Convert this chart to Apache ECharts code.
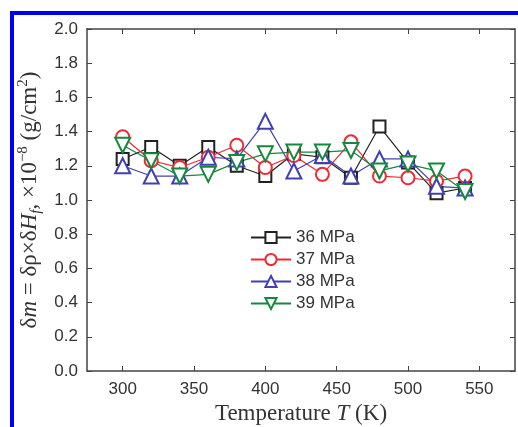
<!DOCTYPE html>
<html>
<head>
    <meta charset="utf-8" />
    <script src="https://cdn.jsdelivr.net/npm/echarts@6/dist/echarts.min.js"></script>
    <style type="text/css">
        body, html {
            margin: 0;
            padding: 0;
            background: #fff;
        }
        #frame {
            position: absolute;
            left: 10px;
            top: 11px;
            width: 508px;
            height: 416px;
            border-left: 4px solid #0000f0;
            border-top: 4px solid #0000f0;
        }
        #main {
            position: absolute;
            left: 0;
            top: 0;
            width: 518px;
            height: 427px;
        }
    </style>
</head>
<body>
    <div id="frame"></div>
    <div id="main"></div>
<script type="text/javascript">
    // temperature (K)
    var temps = [300, 320, 340, 360, 380, 400, 420, 440, 460, 480, 500, 520, 540];
    // delta m values, x10^-8 g/cm^2
    var p36 = [1.24, 1.31, 1.20, 1.31, 1.20, 1.14, 1.27, 1.25, 1.13, 1.43, 1.22, 1.04, 1.07];
    var p37 = [1.37, 1.23, 1.19, 1.25, 1.32, 1.19, 1.26, 1.15, 1.34, 1.14, 1.13, 1.11, 1.14];
    var p38 = [1.20, 1.14, 1.14, 1.25, 1.24, 1.46, 1.17, 1.26, 1.14, 1.24, 1.24, 1.08, 1.07];
    var p39 = [1.32, 1.23, 1.14, 1.15, 1.22, 1.27, 1.28, 1.28, 1.29, 1.17, 1.21, 1.17, 1.05];
    var names = ['36 MPa', '37 MPa', '38 MPa', '39 MPa'];
    var xTicks = [300, 350, 400, 450, 500, 550];

    function pairs(ys) {
        var out = [];
        for (var i = 0; i < temps.length; i++) {
            out.push([temps[i], ys[i]]);
        }
        return out;
    }

    var axisCol = '#444';
    var labelFont = { color: '#333', fontFamily: 'Liberation Sans', fontSize: 17 };

    function mkSeries(name, ys, color, symbol, rot, size) {
        return {
            name: name,
            type: 'line',
            data: pairs(ys),
            symbol: symbol,
            symbolRotate: rot,
            symbolSize: size,
            lineStyle: { color: color, width: 1.2 },
            itemStyle: { color: color, borderWidth: 1.6 },
            emphasis: { disabled: true }
        };
    }

    var myChart = echarts.init(document.getElementById('main'));
    var option = {
        backgroundColor: 'transparent',
        animation: false,
        grid: { left: 87, right: 3, top: 29, bottom: 56, outerBoundsMode: 'none', containLabel: false },
        legend: {
            orient: 'vertical',
            left: 250,
            top: 229,
            padding: 0,
            itemWidth: 40,
            itemHeight: 14,
            itemGap: 5,
            data: names,
            textStyle: { color: '#333', fontFamily: 'Liberation Sans', fontSize: 17, lineHeight: 15 }
        },
        xAxis: [{
            type: 'value',
            min: 275,
            max: 575,
            position: 'bottom',
            axisLine: { show: true, onZero: false, lineStyle: { color: axisCol, width: 1.5 } },
            axisTick: { show: true, inside: true, length: 5, customValues: xTicks, lineStyle: { color: axisCol } },
            axisLabel: Object.assign({ margin: 10, customValues: xTicks }, labelFont),
            splitLine: { show: false },
            name: 'Temperature {i|T} (K)',
            nameLocation: 'middle',
            nameGap: 28,
            nameTextStyle: {
                color: '#333', fontFamily: 'Liberation Serif', fontSize: 23,
                rich: { i: { fontStyle: 'italic', fontFamily: 'Liberation Serif', fontSize: 23, color: '#333' } }
            }
        }, {
            type: 'value',
            min: 275,
            max: 575,
            position: 'top',
            axisLine: { show: true, onZero: false, lineStyle: { color: axisCol, width: 1.5 } },
            axisTick: { show: true, inside: true, length: 5, customValues: xTicks, lineStyle: { color: axisCol } },
            axisLabel: { show: false },
            splitLine: { show: false }
        }],
        yAxis: [{
            type: 'value',
            min: 0,
            max: 2,
            interval: 0.2,
            position: 'left',
            axisLine: { show: true, onZero: false, lineStyle: { color: axisCol, width: 1.5 } },
            axisTick: { show: true, inside: true, length: 5, lineStyle: { color: axisCol } },
            axisLabel: Object.assign({
                margin: 9,
                formatter: function (v) { return v.toFixed(1); }
            }, labelFont),
            splitLine: { show: false },
            name: '\u03b4{i|m} = \u03b4\u03c1\u00d7\u03b4{i|H}{sub|f}, \u00d710{sup|\u22128} (g/cm{sup|2})',
            nameLocation: 'middle',
            nameGap: 41,
            nameTextStyle: {
                color: '#333', fontFamily: 'Liberation Serif', fontSize: 23, lineHeight: 28,
                rich: {
                    i: { fontStyle: 'italic', fontFamily: 'Liberation Serif', fontSize: 23, color: '#333', lineHeight: 28 },
                    sub: { fontStyle: 'italic', fontFamily: 'Liberation Serif', fontSize: 15, color: '#333', verticalAlign: 'bottom', lineHeight: 28 },
                    sup: { fontFamily: 'Liberation Serif', fontSize: 15, color: '#333', verticalAlign: 'top', lineHeight: 28 }
                }
            }
        }, {
            type: 'value',
            min: 0,
            max: 2,
            interval: 0.2,
            position: 'right',
            axisLine: { show: true, onZero: false, lineStyle: { color: axisCol, width: 1.5 } },
            axisTick: { show: true, inside: true, length: 5, lineStyle: { color: axisCol } },
            axisLabel: { show: false },
            splitLine: { show: false }
        }],
        series: [
            mkSeries(names[0], p36, '#222222', 'emptyRect', 0, 12),
            mkSeries(names[1], p37, '#ee2a34', 'emptyCircle', 0, 13),
            mkSeries(names[2], p38, '#4040b4', 'emptyTriangle', 0, 15),
            mkSeries(names[3], p39, '#14883c', 'emptyTriangle', 180, 15)
        ]
    };
    myChart.setOption(option);
</script>
</body>
</html>
